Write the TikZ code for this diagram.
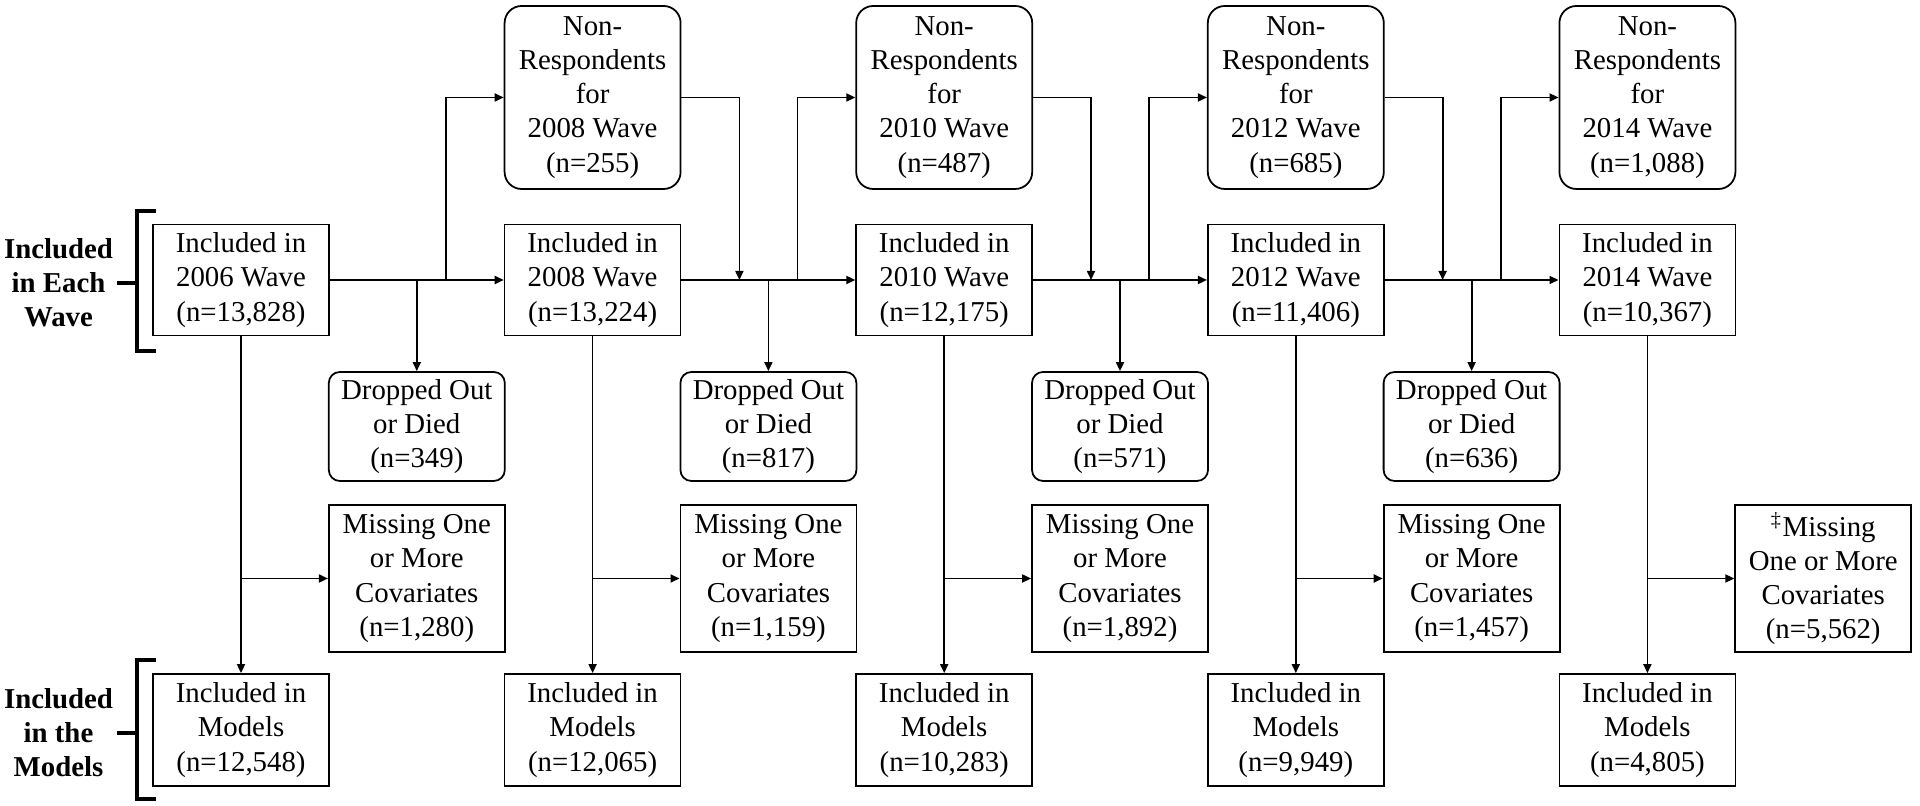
\documentclass[tikz,border=0pt]{standalone}
\usepackage{fontspec}
\setmainfont{Liberation Serif}
\usetikzlibrary{arrows.meta,calc}

\tikzset{
  box/.style={draw, line width=0.5pt, minimum width=1.76cm, align=center, inner sep=1pt, font=\fontsize{8.2}{9.7}\selectfont},
  wavebox/.style={box, minimum height=1.11cm},
  nrbox/.style={box, rounded corners=0.17cm, minimum height=1.83cm},
  dropbox/.style={box, rounded corners=0.11cm, minimum height=1.09cm},
  missbox/.style={box, minimum height=1.47cm},
  modbox/.style={box, minimum height=1.12cm},
  flow/.style={line width=0.5pt, -{Triangle[length=0.9mm,width=0.8mm]}},
  bracket/.style={line width=1.2pt},
  side/.style={font=\fontsize{8.2}{9.7}\selectfont\bfseries, align=center, inner sep=1pt}
}

\begin{document}
\begin{tikzpicture}
    \useasboundingbox (0,0) rectangle (19.2,8.06);

    % included in each wave
    \foreach \k/\yr/\n in {1/2006/{13,828},2/2008/{13,224},3/2010/{12,175},4/2012/{11,406},5/2014/{10,367}}
        \node[wavebox] (i\k) at ({2.41+3.516*(\k-1)},5.26) {Included in\\\yr{} Wave\\(n=\n)};

    % non-respondents
    \foreach \k/\yr/\n in {2/2008/255,3/2010/487,4/2012/685,5/2014/{1,088}}
        \node[nrbox] (nr\k) at ({2.41+3.516*(\k-1)},7.085) {Non-\\Respondents\\for\\\yr{} Wave\\(n=\n)};

    % dropped out or died
    \foreach \k/\n in {1/349,2/817,3/571,4/636}
        \node[dropbox] (d\k) at ({4.168+3.516*(\k-1)},3.795) {Dropped Out\\or Died\\(n=\n)};

    % missing covariates
    \foreach \k/\n in {1/{1,280},2/{1,159},3/{1,892},4/{1,457}}
        \node[missbox] (m\k) at ({4.168+3.516*(\k-1)},2.275) {Missing One\\or More\\Covariates\\(n=\n)};
    \node[missbox] (m5) at (18.232,2.275) {\textsuperscript{\ddag}Missing\\One or More\\Covariates\\(n=5,562)};

    % included in models
    \foreach \k/\n in {1/{12,548},2/{12,065},3/{10,283},4/{9,949},5/{4,805}}
        \node[modbox] (mod\k) at ({2.41+3.516*(\k-1)},0.76) {Included in\\Models\\(n=\n)};

    % side labels and brackets
    \node[side] (each) at (0.585,5.23) {Included\\in Each\\Wave};
    \node[side] (models) at (0.585,0.73) {Included\\in the\\Models};

    \coordinate (b1top) at ([xshift=-0.15cm,yshift=0.125cm]i1.north west);
    \coordinate (b1bot) at ([xshift=-0.15cm,yshift=-0.145cm]i1.south west);
    \coordinate (b2top) at ([xshift=-0.15cm,yshift=0.13cm]mod1.north west);
    \coordinate (b2bot) at ([xshift=-0.15cm,yshift=-0.12cm]mod1.south west);
    \draw[bracket] ([xshift=0.19cm]b1top) -- (b1top) -- (b1bot) -- ([xshift=0.19cm]b1bot);
    \draw[bracket] ([xshift=0.19cm]b2top) -- (b2top) -- (b2bot) -- ([xshift=0.19cm]b2bot);
    \draw[bracket] (each.east) -- (each.east -| b1top);
    \draw[bracket] (models.east) -- (models.east -| b2top);

    % wave to wave, with drop outs and non-respondents
    \foreach \k [evaluate=\k as \nk using int(\k+1)] in {1,...,4} {
        \draw[flow] (i\k.east) -- (i\nk.west);
        \draw[flow] (d\k.north |- i\k.east) -- (d\k.north);
        \draw[flow] ($(d\k.north |- i\k.east)+(0.29,0)$) |- (nr\nk.west);
    }

    % non-respondents coming back
    \foreach \k in {2,...,4}
        \draw[flow] (nr\k.east) -| ($(d\k.north |- i\k.east)+(-0.29,0)$);

    % wave to models
    \foreach \k in {1,...,5} {
        \draw[flow] (i\k.south) -- (mod\k.north);
        \draw[flow] (i\k.south |- m\k.west) -- (m\k.west);
    }
\end{tikzpicture}
\end{document}
